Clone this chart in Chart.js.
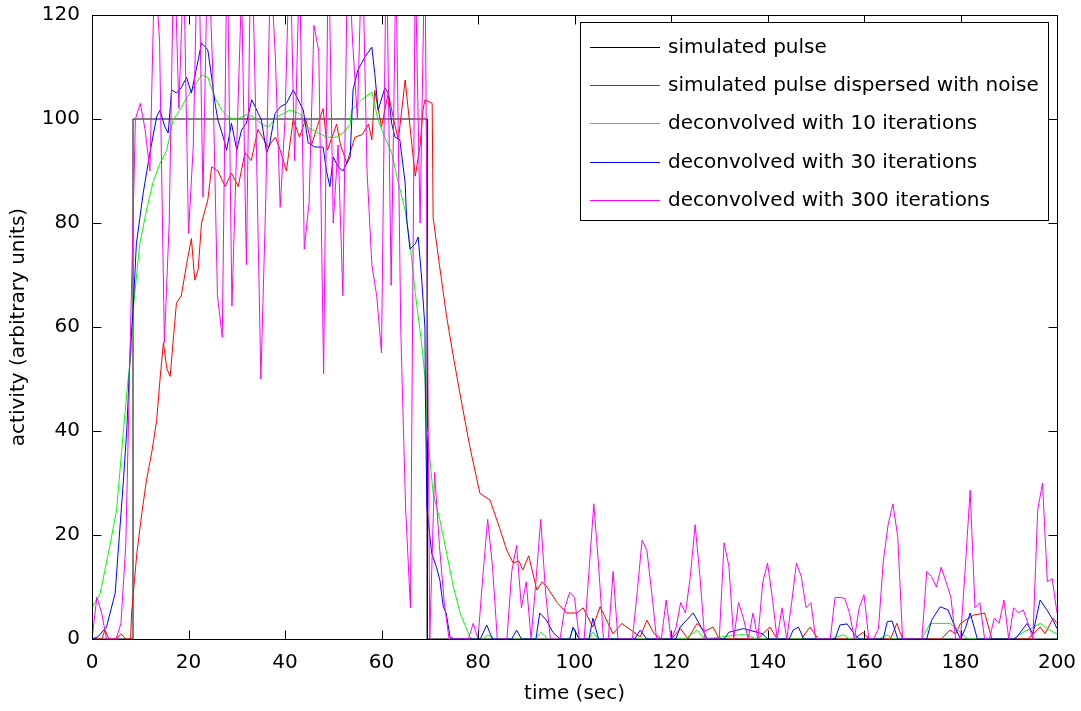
<!DOCTYPE html>
<html>
<head>
<meta charset="utf-8">
<script src="https://cdn.jsdelivr.net/npm/chart.js@4.4.1/dist/chart.umd.min.js"></script>
<style>
  html, body { margin: 0; padding: 0; background: #fff; }
  #wrap { width: 1081px; height: 711px; position: relative; }
</style>
</head>
<body>
<div id="wrap"><canvas id="c"></canvas></div>
<script>
// series labels, in plotting order
var labels = [
  "simulated pulse",
  "simulated pulse dispersed with noise",
  "deconvolved with 10 iterations",
  "deconvolved with 30 iterations",
  "deconvolved with 300 iterations"
];
var colors = ["#000000", "#ff0000", "#00ff00", "#0000ff", "#ff00ff"];

var xTicks = [0, 20, 40, 60, 80, 100, 120, 140, 160, 180, 200];
var yTicks = [0, 20, 40, 60, 80, 100, 120];

// simulated pulse
var pulseT = [0, 8.5, 8.5, 69.5, 69.5, 200];
var pulseV = [0, 0, 100, 100, 0, 0];

// dispersed with noise
var noisyT = [0, 2, 2.7, 3.5, 5, 6, 7, 8, 8.2, 9.3, 10.3, 11.3, 12.4, 13.4, 14.1, 14.8, 15.5, 16.2, 17.5, 18.5,
  19.6, 20.6, 21.3, 22, 22.7, 24, 24.8, 26.1, 27.6, 28.9, 30.3, 31.7, 33, 34.4, 36.5, 38, 39, 40.3, 41.7, 43,
  44.3, 45.5, 46.5, 47.9, 48.8, 50.7, 51.5, 52.8, 54.5, 56, 57.3, 58, 58.6, 60, 61.4, 62.5, 63.5, 64.9, 66.3, 67,
  68, 68.6, 69, 70.5, 70.7, 72, 73.5, 75, 76.5, 78.3, 80.4, 82.5, 84.6, 86, 87.3, 88.5, 89.3, 90.5, 92.2, 93.3,
  94.3, 96.4, 98.4, 100.5, 101.8, 103.8, 105.3, 108, 109.8, 112, 113.6, 115, 116.5, 118, 120, 122, 123.5, 125.4, 127, 128.7,
  130, 138, 139, 140.5, 142, 147, 148.8, 150.5, 158, 159.8, 161, 165.5, 166.8, 168, 176, 177.8, 179, 180, 182.7, 185,
  186.5, 194, 196.5, 197.5, 199.2, 200];
var noisyV = [0, 0, 1.7, 0, 0, 1, 0, 0, 5, 16.5, 24, 30.6, 36, 42, 50, 57, 52, 50.5, 64.6, 66,
  72, 77, 69, 71, 80, 84.4, 90.8, 90, 87, 89.6, 87, 93.5, 92, 98, 94.6, 96.5, 94, 90, 100, 96.5,
  100, 95, 98, 102, 94, 99, 95, 91.5, 96.5, 97, 99, 96, 105.5, 98.5, 105, 100, 96, 107.5, 95, 89,
  95, 101.7, 103.7, 103, 81, 72, 62, 53.7, 46, 37, 28, 26.7, 21, 17, 14.6, 15, 13.3, 16, 9.4, 11,
  10, 7, 5, 5, 6, 2.3, 6.2, 1, 3, 1.5, 0.4, 3.6, 1, 0, 0, 2, 0, 3, 1.5, 2.3,
  0, 0, 1, 2.3, 0, 0, 2.3, 0, 0, 1.3, 0, 0, 3, 0, 0, 1.7, 1, 3, 4.6, 5,
  0, 0, 2.3, 1, 4, 3];

// deconvolved, 10 iterations
var it10T = [0, 1.7, 3.4, 5.1, 6.1, 7.2, 8.2, 8.5, 9.9, 11.3, 12.7, 14.1, 15.5, 16.8, 18.2, 19.6, 21.7, 22.7, 24, 25.5,
  26.9, 28.2, 29.6, 31, 32.3, 34, 35.1, 36.5, 38.3, 41, 43.1, 44.5, 46.5, 48.6, 50.7, 52, 53.5, 53.8, 55.9, 58,
  59.3, 60.7, 62.1, 63.5, 64.9, 65.9, 67, 68.3, 69, 69.4, 70.7, 72.1, 73.5, 74.9, 76.3, 78.3, 79, 81, 82, 83.5,
  92, 93, 94.5, 99, 99.7, 101, 103, 103.8, 105, 123, 125.4, 127, 134, 136, 137.5, 153, 155.7, 157, 163, 164.8,
  166, 172, 173.7, 177.8, 180, 181.5, 191, 193, 196.5, 199.2, 200];
var it10V = [6, 8.8, 16.5, 24.8, 35.7, 47.3, 56.2, 63, 76, 82.5, 88, 91.5, 94, 99.8, 101.7, 104, 107, 108.5, 108, 104,
  101.7, 100.4, 99.8, 100.4, 101, 100, 99, 98.5, 100.4, 101.7, 101, 98.5, 97.5, 96.5, 96.5, 97.3, 99, 101.7, 103.7, 105.2,
  99.8, 96.5, 93.5, 87.7, 82.5, 76, 66.5, 57, 50.4, 40.8, 28, 22.9, 16.5, 10, 5, 0.4, 0, 0, 0.8, 0,
  0, 1.3, 0, 0, 2, 0, 0, 1.3, 0, 0, 1.7, 0, 0.8, 0.8, 0, 0, 0.8, 0, 0, 0.8,
  0, 0, 3, 3, 1.3, 0, 0, 1.3, 3, 1.3, 1];

// deconvolved, 30 iterations
var it30T = [0, 1.2, 3, 4.8, 5.4, 6.4, 7.2, 7.9, 8.5, 9.2, 10.6, 12, 13.4, 14.1, 15.1, 15.8, 16.5, 17.5, 18.5, 19.6,
  20.6, 22, 22.7, 24, 24.8, 25.5, 26.1, 27.2, 27.9, 28.9, 30, 31, 32, 33.1, 34, 35.1, 36.2, 36.8, 37.9, 39,
  40.3, 41.7, 43.1, 43.8, 44.8, 46.2, 47.9, 48.6, 49.3, 50, 51, 52, 53.5, 54.1, 55.1, 56.6, 58, 58.6, 59.3, 60.7,
  61.4, 62.1, 62.8, 63.8, 64.9, 65.2, 65.9, 67, 67.6, 68.3, 69, 69.1, 69.4, 70.4, 71.4, 72.1, 72.8, 73.4, 74.2, 75,
  80.5, 81.8, 83, 87, 88, 89, 92, 92.8, 94.2, 95.5, 97, 99, 99.7, 101, 103, 103.8, 105, 112.5, 113.6, 115,
  121, 121.9, 124.6, 126, 127.5, 131, 132, 135, 137, 139, 140, 144.5, 145.3, 146.4, 147.5, 154, 155, 156.5, 158, 159,
  164, 164.8, 165.8, 167, 173, 174, 175.8, 177.4, 179, 180, 181, 182, 183.5, 191, 191.7, 193.8, 195, 196.5, 197.9, 199.2,
  200];
var it30V = [0, 0.4, 2.3, 8.8, 16.5, 29, 40, 55, 63, 76, 85.7, 93.5, 100.4, 101.7, 98.5, 97.3, 105.6, 105, 106, 108,
  105, 111.3, 114.6, 113.3, 108, 103, 99.8, 96.5, 94, 99.2, 94, 97.9, 99.2, 103.7, 102, 99.8, 93.5, 95, 101, 102.3,
  103, 105.6, 103, 101.7, 95.4, 94.6, 94.6, 90, 87, 92.7, 90.8, 90, 92.7, 105.6, 109.4, 112, 113.8, 108.8, 101.7, 106,
  105, 99.2, 96.5, 96, 87.7, 81, 75, 76, 77.3, 69.6, 60, 47, 25.4, 16.5, 13.8, 11.3, 6.2, 5, 0.4, 0,
  0, 2.7, 0, 0, 1.7, 0, 0, 5, 3.6, 1.3, 0, 0, 2.3, 0, 0, 4, 0, 0, 1.7, 0,
  0, 2.3, 5, 2.7, 0, 0, 1.3, 2, 1.5, 1, 0, 0, 1.7, 2.3, 0, 0, 2.7, 2.9, 1, 0,
  0, 3.3, 3.5, 0, 0, 3.6, 6.2, 5.6, 2, 0, 2, 5, 0, 0, 0.4, 3, 1, 7.5, 5.6, 3.6,
  2];

// deconvolved, 300 iterations: one value per second, t = 0..200
var it300V = [
  0, 8, 5, 0, 0, 0, 3, 18, 60, 100,
  103, 98, 90, 130, 115, 57, 80, 135, 102, 130,
  78, 95, 140, 85, 135, 110, 66, 58, 135, 64,
  95, 125, 72, 140, 98, 50, 84, 130, 112, 83,
  100, 135, 92, 130, 75, 84, 118, 113, 51, 135,
  80, 95, 66, 135, 115, 100, 135, 90, 72, 66,
  55, 135, 68, 130, 59, 25, 6, 130, 80, 135,
  0, 32, 18, 7, 0, 0, 0, 0, 0, 3,
  0, 12, 23, 14, 0, 0, 0, 13, 18, 6,
  11, 0, 11, 23, 9, 0, 0, 0, 6, 9,
  8, 0, 0, 13, 26, 14, 0, 0, 13, 0,
  0, 0, 0, 9, 19, 17, 9, 0, 0, 7.5,
  0, 2, 7, 5, 12, 22, 12, 0, 0, 0,
  0, 18.5, 14, 0, 7, 4, 0, 5, 0, 10.8,
  14.6, 8, 0, 6, 0, 7, 14.6, 12, 6, 7,
  0, 0, 0, 0, 8, 8, 7.8, 5, 0, 6,
  8.5, 0, 0, 2, 15, 22, 26, 19.6, 0, 0,
  0, 0, 0, 13, 12, 10, 13.8, 11, 8, 0,
  0, 13.8, 28.6, 6, 7, 0, 0, 4, 3, 7.5,
  0, 6, 5, 5.6, 3, 0, 24.8, 30, 11, 11.6,
  5
];

function pts(t, v) {
  return v.map(function (y, i) { return { x: t[i], y: y }; });
}

var series = [
  pts(pulseT, pulseV),
  pts(noisyT, noisyV),
  pts(it10T, it10V),
  pts(it30T, it30V),
  it300V.map(function (y, i) { return { x: i, y: y }; })
];

var FONT = "'DejaVu Sans', sans-serif";
var FSIZE = 20;

// MATLAB-like box with inward ticks and legend in the upper right
var boxPlugin = {
  id: 'box',
  afterDraw: function (chart) {
    var ctx = chart.ctx, a = chart.chartArea;
    var xs = chart.scales.x, ys = chart.scales.y;
    var L = Math.round(a.left) + 0.5, R = Math.round(a.right) + 0.5;
    var T = Math.round(a.top) + 0.5, B = Math.round(a.bottom) + 0.5;
    ctx.save();
    ctx.strokeStyle = '#000';
    ctx.lineWidth = 1;
    ctx.strokeRect(L, T, R - L, B - T);
    ctx.beginPath();
    xTicks.forEach(function (t) {
      var px = Math.round(xs.getPixelForValue(t)) + 0.5;
      ctx.moveTo(px, B); ctx.lineTo(px, B - 9);
      ctx.moveTo(px, T); ctx.lineTo(px, T + 9);
    });
    yTicks.forEach(function (t) {
      var py = Math.round(ys.getPixelForValue(t)) + 0.5;
      ctx.moveTo(L, py); ctx.lineTo(L + 9, py);
      ctx.moveTo(R, py); ctx.lineTo(R - 9, py);
    });
    ctx.stroke();

    // legend
    var lx = 580.5, ly = 22.5, lw = 468, lh = 198;
    ctx.fillStyle = '#fff';
    ctx.fillRect(lx, ly, lw, lh);
    ctx.strokeRect(lx, ly, lw, lh);
    ctx.font = FSIZE + 'px ' + FONT;
    ctx.textBaseline = 'middle';
    ctx.textAlign = 'left';
    chart.data.datasets.forEach(function (ds, i) {
      var y = Math.round(47 + i * 38.2) + 0.5;
      ctx.strokeStyle = ds.borderColor;
      ctx.beginPath();
      ctx.moveTo(590, y); ctx.lineTo(660, y);
      ctx.stroke();
      ctx.fillStyle = '#000';
      ctx.fillText(ds.label, 668, y);
    });
    ctx.restore();
  }
};

new Chart(document.getElementById('c'), {
  type: 'line',
  data: {
    datasets: series.map(function (d, i) {
      return {
        label: labels[i],
        data: d,
        borderColor: colors[i],
        borderWidth: 1,
        pointRadius: 0,
        tension: 0,
        fill: false,
        order: 4 - i
      };
    })
  },
  options: {
    responsive: true,
    maintainAspectRatio: false,
    animation: false,
    events: [],
    layout: { padding: { left: 0, top: 15, right: 24, bottom: 0 } },
    plugins: {
      legend: { display: false },
      tooltip: { enabled: false }
    },
    scales: {
      x: {
        type: 'linear',
        min: 0,
        max: 200,
        afterBuildTicks: function (s) { s.ticks = xTicks.map(function (v) { return { value: v }; }); },
        afterFit: function (s) { s.height = 72; s.paddingLeft = 0; s.paddingRight = 0; },
        grid: { display: false, drawTicks: false },
        border: { display: false },
        ticks: { color: '#000', font: { family: FONT, size: FSIZE }, padding: 12, maxRotation: 0 },
        title: { display: true, text: 'time (sec)', color: '#000', font: { family: FONT, size: FSIZE }, padding: { top: 0, bottom: 5 } }
      },
      y: {
        min: 0,
        max: 120,
        afterBuildTicks: function (s) { s.ticks = yTicks.map(function (v) { return { value: v }; }); },
        afterFit: function (s) { s.width = 92; s.paddingTop = 0; s.paddingBottom = 0; },
        grid: { display: false, drawTicks: false },
        border: { display: false },
        ticks: { color: '#000', font: { family: FONT, size: FSIZE }, padding: 12 },
        title: { display: true, text: 'activity (arbitrary units)', color: '#000', font: { family: FONT, size: FSIZE }, padding: { top: 7, bottom: 0 } }
      }
    }
  },
  plugins: [boxPlugin]
});
</script>
</body>
</html>
